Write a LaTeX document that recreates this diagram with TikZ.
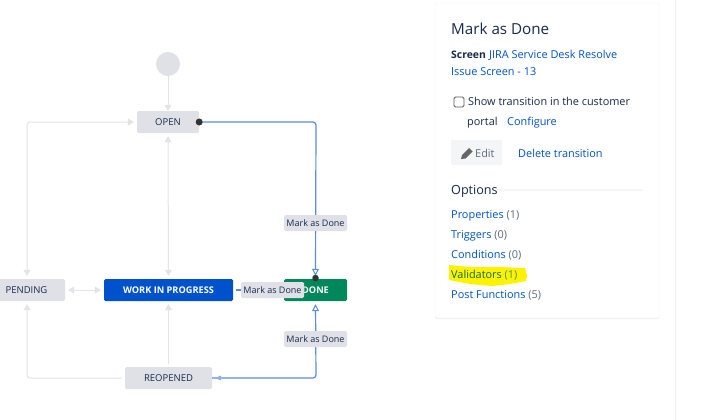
\documentclass[tikz,border=0pt]{standalone}
\usepackage{fontspec}
\setmainfont{Open Sans}
\usetikzlibrary{arrows.meta,shadows}

\definecolor{statusgrey}{HTML}{DFE1E6}
\definecolor{faintline}{HTML}{E3E4E9}
\definecolor{wipblue}{HTML}{0052CC}
\definecolor{donegreen}{HTML}{00875A}
\definecolor{lineblue}{HTML}{5A8CE6}
\definecolor{inktext}{HTML}{172B4D}
\definecolor{linktext}{HTML}{0052CC}
\definecolor{counttext}{HTML}{5E6C84}
\definecolor{softgrey}{HTML}{F4F5F7}

\tikzset{
  status/.style={rounded corners=1.5pt, minimum height=22pt, inner sep=0pt, text=inktext, fill=statusgrey, font=\fontsize{9.5}{11}\selectfont},
  strongstatus/.style={status, text=white, font=\fontsize{9.2}{11}\selectfont\bfseries},
  translabel/.style={rounded corners=1.5pt, minimum width=63pt, minimum height=16pt, inner sep=0pt, text=inktext, fill=statusgrey, font=\fontsize{9}{11}\selectfont},
  greyline/.style={draw=faintline, line width=1pt, rounded corners=3pt, -{Triangle[length=6pt,width=7pt]}},
  blueline/.style={draw=lineblue, line width=1.2pt, rounded corners=3pt},
  opentip/.style={-{Triangle[open,length=7pt,width=7pt,line width=1pt]}},
  paneltext/.style={anchor=base west, inner sep=0pt, text=inktext, font=\fontsize{10.9}{13}\selectfont},
  panellink/.style={paneltext, text=linktext},
  enddot/.style={circle, fill=black!80, inner sep=0pt, minimum size=7pt}
}

\begin{document}
\begin{tikzpicture}[x=1pt,y=-1pt]

    % Fix the page to the size of the screenshot
    \useasboundingbox[fill=white] (0,0) rectangle (701,420);

    % Start circle and the status boxes
    \node[circle, fill=statusgrey, minimum size=24pt, inner sep=0pt] (start) at (168,64) {};
    \node[status, minimum width=62pt] (open) at (168,122) {OPEN};
    \node[status, minimum width=77pt] (pending) at (26.5,290) {PENDING};
    \node[strongstatus, minimum width=129pt, fill=wipblue] (wip) at (168.5,290) {WORK IN PROGRESS};
    \node[strongstatus, minimum width=63pt, fill=donegreen] (done) at (315.5,290) {DONE};
    \node[status, minimum width=87pt] (reopened) at (168.5,378) {REOPENED};

    % Corners of the routed lines
    \coordinate (openleft) at (27,122);
    \coordinate (openright) at (316,122);
    \coordinate (reopenleft) at (27,378);
    \coordinate (reopenright) at (316,378);

    % Grey transitions
    \draw[greyline] (start) -- (open);
    \draw[greyline, {Triangle[length=6pt,width=7pt]}-{Triangle[length=6pt,width=7pt]}, shorten >=3pt, shorten <=3pt] (open.west) -- (openleft) -- (pending.north -| openleft);
    \draw[greyline, {Triangle[length=6pt,width=7pt]}-{Triangle[length=6pt,width=7pt]}, shorten >=3pt, shorten <=3pt] (open.south) -- (wip.north);
    \draw[greyline, {Triangle[length=6pt,width=7pt]}-{Triangle[length=6pt,width=7pt]}, shorten >=3pt, shorten <=3pt] (pending.east) -- (wip.west);
    \draw[greyline, shorten >=3pt, shorten <=3pt] (reopened.north) -- (wip.south);
    \draw[greyline, shorten >=3pt, shorten <=3pt] (reopened.west) -- (reopenleft) -- (pending.south -| reopenleft);

    % Blue transitions into DONE
    \draw[blueline, opentip, shorten >=3pt] (open.east) -- (openright) -- (done.north);
    \draw[blueline, opentip, shorten >=3pt] (reopened.east) -- (reopenright) -- (done.south);
    \draw[blueline, shorten <=3pt] (wip.east) -- (done.west);
    \fill[lineblue!70] (215,378) -- (221,375.5) -- (221,380.5) -- cycle;

    % Labels on the blue transitions
    \node[translabel] (labelopen) at (315.5,223) {Mark as Done};
    \node[translabel] (labelwip) at (272.5,290) {Mark as Done};
    \node[translabel] (labelreopen) at (315.5,339) {Mark as Done};

    % Dots of the selected transition
    \node[enddot] (dotopen) at (open.east) {};
    \node[enddot, minimum size=6.5pt] (dotdone) at (315.5,278) {};

    % Side panel
    \fill[faintline!60] (675,0) rectangle (676,420);
    \node[draw=black!5, fill=white, rounded corners=2pt, minimum width=224pt, minimum height=315pt, inner sep=0pt, drop shadow={opacity=0.12, shadow xshift=0pt, shadow yshift=-1.2pt}] (panel) at (547,160.5) {};

    % Yellow highlight under Validators
    \fill[yellow] (449,265) -- (470,267) -- (500,267) -- (525,268) -- (527,275) -- (526,281) -- (510,284) -- (492,286) -- (470,284) -- (449,280) -- cycle;

    % Panel header
    \node[paneltext, font=\fontsize{15.2}{18}\selectfont] (title) at (451,35) {Mark as Done};
    \node[paneltext, font=\fontsize{10.4}{13}\selectfont\bfseries] (screen) at (451,59) {Screen};
    \node[panellink] (screenname) at (489,59) {JIRA Service Desk Resolve};
    \node[panellink] (screenrest) at (451,75) {Issue Screen - 13};

    % Checkbox row
    \node[draw=black!65, line width=0.8pt, rounded corners=1.5pt, minimum size=10pt, inner sep=0pt] (checkbox) at (459,102) {};
    \node[paneltext] (showtext) at (468,105) {Show transition in the customer};
    \node[paneltext] (portal) at (467,125) {portal};
    \node[panellink] (configure) at (507,125) {Configure};

    % Edit button with its pencil
    \node[fill=softgrey, rounded corners=2pt, minimum width=51pt, minimum height=25pt, inner sep=0pt] (editbox) at (476.5,152.5) {};
    \fill[black!60] (461,159) -- (462,155) -- (469,148) -- (472.5,151.5) -- (465.5,158.5) -- cycle;
    \node[paneltext, text=counttext] (edit) at (475,157) {Edit};
    \node[panellink] (delete) at (518,157) {Delete transition};

    % Options list
    \node[paneltext, font=\fontsize{12.6}{15}\selectfont] (options) at (451,194) {Options};
    \fill[softgrey] (497,189) rectangle (643,191);
    \node[panellink] (properties) at (451,218) {Properties \textcolor{counttext}{(1)}};
    \node[panellink] (triggers) at (451,238) {Triggers \textcolor{counttext}{(0)}};
    \node[panellink] (conditions) at (451,258) {Conditions \textcolor{counttext}{(0)}};
    \node[panellink, text=inktext!70!green] (validators) at (451,278) {Validators \textcolor{counttext!70!green}{(1)}};
    \node[panellink] (postfunctions) at (451,298) {Post Functions \textcolor{counttext}{(5)}};

\end{tikzpicture}
\end{document}
